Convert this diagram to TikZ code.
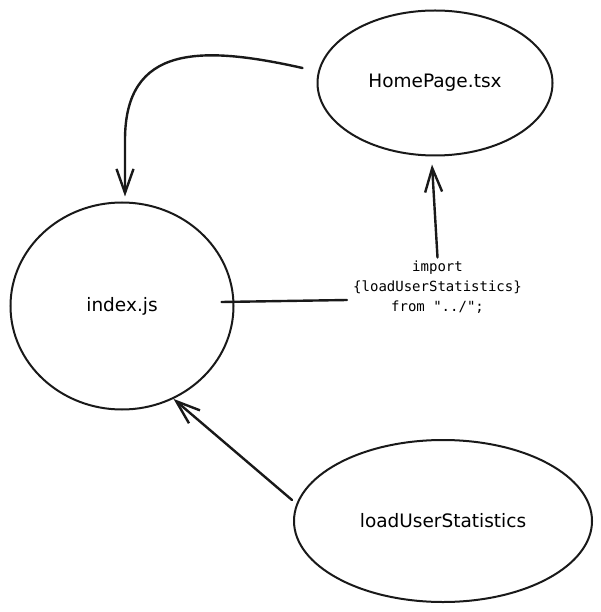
\documentclass[tikz,border=0pt]{standalone}
\usepackage{fontspec}
\setmainfont{DejaVu Sans}
\setmonofont{DejaVu Sans Mono}
\usetikzlibrary{shapes.geometric,arrows.meta}
\tikzset{
  bubble/.style={ellipse, draw=black!90, line width=2pt, inner sep=0pt,
    font=\fontsize{18.5}{22}\selectfont},
  codelabel/.style={align=center, inner sep=1pt,
    font=\ttfamily\fontsize{14}{20}\selectfont},
  flow/.style={draw=black!90, line width=2.4pt, line cap=round, line join=round},
  flowarrow/.style={flow, -{Straight Barb[length=24pt,width=17pt,line width=2.4pt]}},
}
\begin{document}
\begin{tikzpicture}[x=1pt,y=-1pt]
\useasboundingbox (0,0) rectangle (600,612);
\node[bubble, minimum width=235pt, minimum height=145pt] (home) at (435,83) {HomePage.tsx};
\node[bubble, minimum width=223pt, minimum height=207pt] (index) at (122,306) {index.js};
\node[bubble, minimum width=298pt, minimum height=162pt] (load) at (443,521) {loadUserStatistics};
\node[codelabel] (label) at (437.5,287) {import\\\{loadUserStatistics\}\\from "../";};
\coordinate (a1s) at ([shift={(-14,-15)}]home.west);
\coordinate (a1e) at ([shift={(3,-5)}]index.north);
\draw[flowarrow] (a1s) .. controls (200,45) and (125,45) .. (125,140) -- (a1e);
\draw[flowarrow] ([yshift=2pt]label.north) -- ([shift={(-3,8)}]home.south);
\draw[flow] ([shift={(-13,-4)}]index.east) -- ([shift={(-5,13)}]label.west);
\draw[flowarrow] ([shift={(-1,-21)}]load.west) -- (index.-61);
\end{tikzpicture}
\end{document}
